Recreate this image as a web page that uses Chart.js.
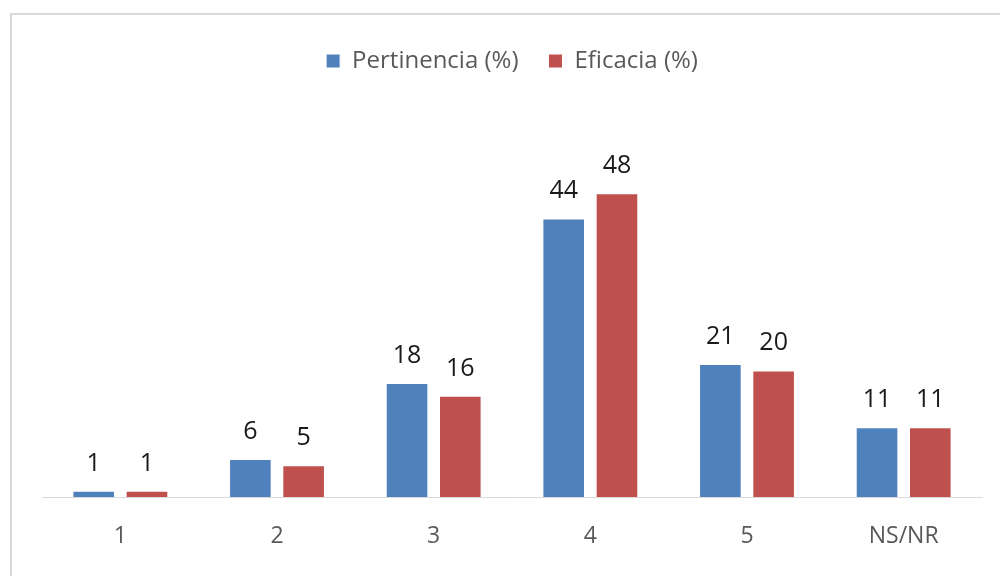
<!DOCTYPE html>
<html>
<head>
<meta charset="utf-8">
<script src="https://cdn.jsdelivr.net/npm/chart.js@4/dist/chart.umd.min.js"></script>
<style>
    body { margin: 0; background: #fff; }
    #frame {
        position: absolute; left: 10px; top: 13px;
        width: 1000px; height: 600px;
        border: 2px solid #d9d9d9; box-sizing: border-box;
    }
    #wrap { position: absolute; left: 0; top: 0; width: 1000px; height: 576px; }
</style>
</head>
<body>
<div id="frame"></div>
<div id="wrap"><canvas id="chart" width="1000" height="576"></canvas></div>
<script>
const categories = ["1", "2", "3", "4", "5", "NS/NR"];
const pertinencia = [1, 6, 18, 44, 21, 11];
const eficacia = [1, 5, 16, 48, 20, 11];

// draw the value above each bar
const barLabels = {
    id: "barLabels",
    afterDatasetsDraw(chart) {
        const ctx = chart.ctx;
        ctx.save();
        ctx.font = "25px 'Open Sans'";
        ctx.fillStyle = "#1a1a1a";
        ctx.textAlign = "center";
        ctx.textBaseline = "alphabetic";
        chart.data.datasets.forEach((ds, i) => {
            chart.getDatasetMeta(i).data.forEach((bar, j) => {
                ctx.fillText(ds.data[j], bar.x, bar.y - 20);
            });
        });
        ctx.restore();
    }
};

new Chart(document.getElementById("chart"), {
    type: "bar",
    data: {
        labels: categories,
        datasets: [
            {
                label: "Pertinencia (%)",
                data: pertinencia,
                backgroundColor: "#4f81bd",
                borderColor: "#ffffff",
                borderWidth: 1
            },
            {
                label: "Eficacia (%)",
                data: eficacia,
                backgroundColor: "#c0504d",
                borderColor: "#ffffff",
                borderWidth: 1
            }
        ]
    },
    options: {
        responsive: false,
        animation: false,
        layout: { padding: { left: 42, right: 18, top: 19, bottom: 0 } },
        datasets: {
            bar: { categoryPercentage: 0.68, barPercentage: 0.8 }
        },
        plugins: {
            legend: {
                position: "top",
                labels: {
                    font: { family: "'Open Sans'", size: 24 },
                    color: "#595959",
                    boxWidth: 14,
                    boxHeight: 14,
                    padding: 30
                }
            },
            tooltip: { enabled: false }
        },
        scales: {
            x: {
                grid: { display: false, drawTicks: false },
                border: { display: true, color: "#d9d9d9", width: 1 },
                ticks: {
                    font: { family: "'Open Sans'", size: 23 },
                    color: "#595959",
                    padding: 26
                },
                afterFit: (scale) => { scale.height = 79; }
            },
            y: {
                display: false,
                min: 0,
                max: 65.4
            }
        }
    },
    plugins: [barLabels]
});
</script>
</body>
</html>
